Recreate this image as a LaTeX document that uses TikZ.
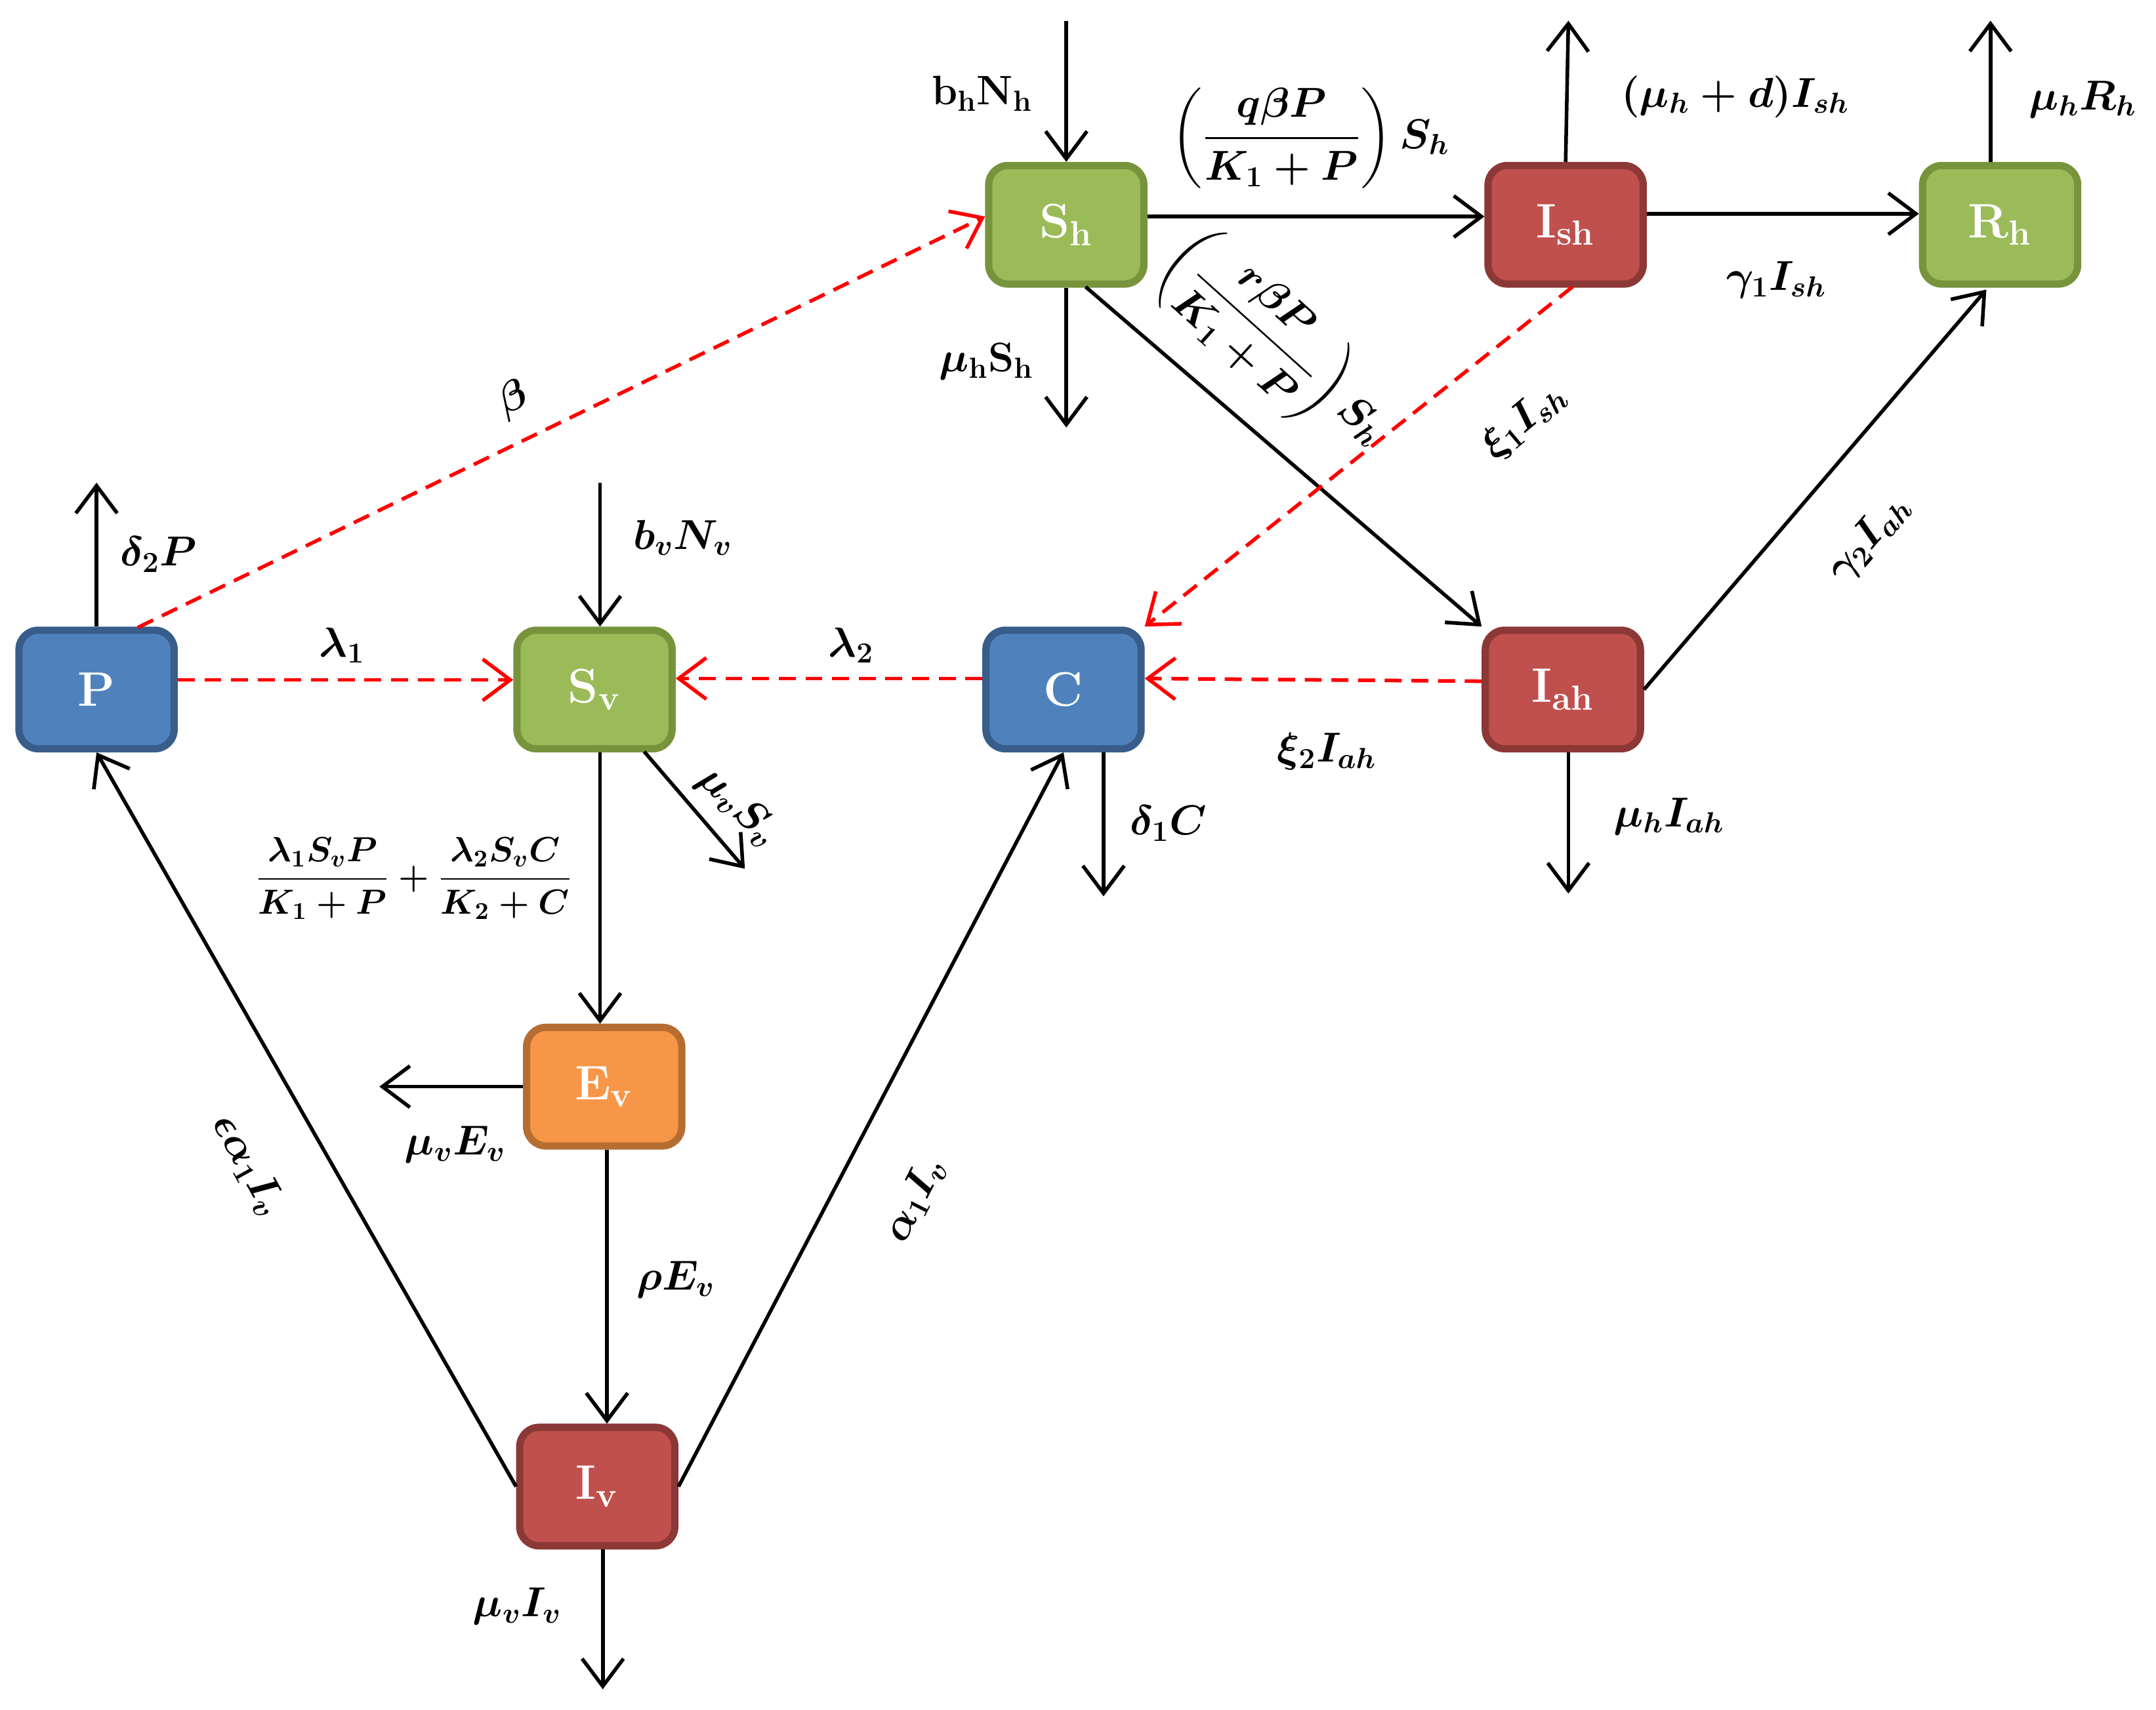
\documentclass[tikz,border=0pt]{standalone}
\usepackage{amsmath}
\usetikzlibrary{arrows.meta,calc}
\definecolor{gF}{HTML}{9BBB59}\definecolor{gD}{HTML}{77933C}
\definecolor{rF}{HTML}{C0504D}\definecolor{rD}{HTML}{8C3836}
\definecolor{bF}{HTML}{4F81BD}\definecolor{bD}{HTML}{385D8A}
\definecolor{oF}{HTML}{F79646}\definecolor{oD}{HTML}{B66D31}
\begin{document}
\begin{tikzpicture}[x=0.02cm,y=-0.02cm,
 box/.style={draw=#1D,fill=#1F,line width=3pt,rounded corners=8pt,minimum width=2.25cm,minimum height=1.72cm,text=white,font=\fontsize{20}{24}\selectfont\bfseries},
 ar/.style={line width=1.5pt,-{Straight Barb[length=4mm,width=6mm,line width=1.5pt]}},
 rd/.style={ar,red,dashed,dash pattern=on 7pt off 4pt},
 lb/.style={font=\fontsize{17}{21}\selectfont\boldmath\bfseries,inner sep=1pt}]
\useasboundingbox (0,0) rectangle (1563,1240);
\node[box=g] (Sh) at (773,163) {S$_{\mathbf h}$};
\node[box=r] (Ish) at (1135,163) {I$_{\mathbf{sh}}$};
\node[box=g] (Rh) at (1450,163) {R$_{\mathbf h}$};
\node[box=b] (P) at (70,500) {P};
\node[box=g] (Sv) at (431,500) {S$_{\mathbf v}$};
\node[box=b] (C) at (771,500) {C};
\node[box=r] (Iah) at (1133,500) {I$_{\mathbf{ah}}$};
\node[box=o] (Ev) at (438,788) {E$_{\mathbf v}$};
\node[box=r] (Iv) at (433,1078) {I$_{\mathbf v}$};
\coordinate (bh) at (773,15); \coordinate (muS) at (773,310);
\coordinate (iu) at (1137,15); \coordinate (ru) at (1443,15);
\coordinate (pu) at (70,350); \coordinate (bv) at (435,350);
\coordinate (sd) at (540,630); \coordinate (el) at (275,788);
\coordinate (ivd) at (437,1225); \coordinate (cd) at (800,650);
\coordinate (iad) at (1137,648);
% solid flows
\draw[ar] (bh) -- (Sh.north);
\draw[ar] (Sh.south) -- (muS);
\draw[ar] (Sh.east |- 0,157) -- (Ish.west |- 0,157);
\draw[ar] (Ish.north) -- (iu);
\draw[ar] (Ish.east |- 0,155) -- (Rh.west |- 0,155);
\draw[ar] (Rh.north -| 1443,0) -- (ru);
\draw[ar] (787,208) -- (Iah.north west);
\draw[ar] (Iah.east) -- (1440,210);
\draw[ar] (P.north) -- (pu);
\draw[ar] (bv) -- (Sv.north -| bv);
\draw[ar] (467,545) -- (sd);
\draw[ar] (Sv.south -| bv) -- (Ev.north -| bv);
\draw[ar] (Ev.west) -- (el);
\draw[ar] (Ev.south -| 440,0) -- (Iv.north -| 440,0);
\draw[ar] (Iv.south -| ivd) -- (ivd);
\draw[ar] (Iv.west) -- (P.south);
\draw[ar] (Iv.east) -- (C.south);
\draw[ar] (C.south -| cd) -- (cd);
\draw[ar] (Iah.south -| iad) -- (iad);
% dashed
\draw[rd] (1140,208) -- (C.north east);
\draw[rd] (Iah.west |- 0,494) -- (C.east |- 0,492);
\draw[rd] (C.west |- 0,492) -- (Sv.east |- 0,492);
\draw[rd] (P.east |- 0,493) -- (Sv.west |- 0,493);
\draw[rd] (100,455) -- (Sh.west |- 0,157);
% labels
\node[lb] at (712,68) {b$_{\mathbf h}$N$_{\mathbf h}$};
\node[lb] at (715,262) {$\mu_{\mathrm h}$S$_{\mathbf h}$};
\node[lb] at (950,100) {$\left(\dfrac{q\beta P}{K_1+P}\right)S_h$};
\node[lb] at (1258,70) {$(\mu_h+d)I_{sh}$};
\node[lb] at (1288,203) {$\gamma_1 I_{sh}$};
\node[lb] at (1510,72) {$\mu_h R_h$};
\node[lb,rotate=-42] at (925,250) {$\left(\dfrac{r\beta P}{K_1+P}\right)S_h$};
\node[lb,rotate=49] at (1355,390) {$\gamma_2 I_{ah}$};
\node[lb,rotate=40] at (1105,305) {$\xi_1 I_{sh}$};
\node[lb] at (962,545) {$\xi_2 I_{ah}$};
\node[lb] at (617,468) {$\lambda_2$};
\node[lb] at (248,468) {$\lambda_1$};
\node[lb,rotate=26] at (372,290) {$\beta$};
\node[lb] at (115,402) {$\delta_2 P$};
\node[lb] at (495,390) {$b_v N_v$};
\node[lb,rotate=-45] at (535,585) {$\mu_v S_v$};
\node[lb,font=\fontsize{14}{17}\selectfont\boldmath] at (300,637) {$\dfrac{\lambda_1 S_v P}{K_1+P}+\dfrac{\lambda_2 S_v C}{K_2+C}$};
\node[lb] at (330,830) {$\mu_v E_v$};
\node[lb] at (490,928) {$\rho E_v$};
\node[lb] at (375,1165) {$\mu_v I_v$};
\node[lb,rotate=-61] at (180,845) {$\epsilon\alpha_1 I_v$};
\node[lb,rotate=63] at (663,870) {$\alpha_1 I_v$};
\node[lb] at (847,597) {$\delta_1 C$};
\node[lb] at (1210,592) {$\mu_h I_{ah}$};
\end{tikzpicture}
\end{document}
